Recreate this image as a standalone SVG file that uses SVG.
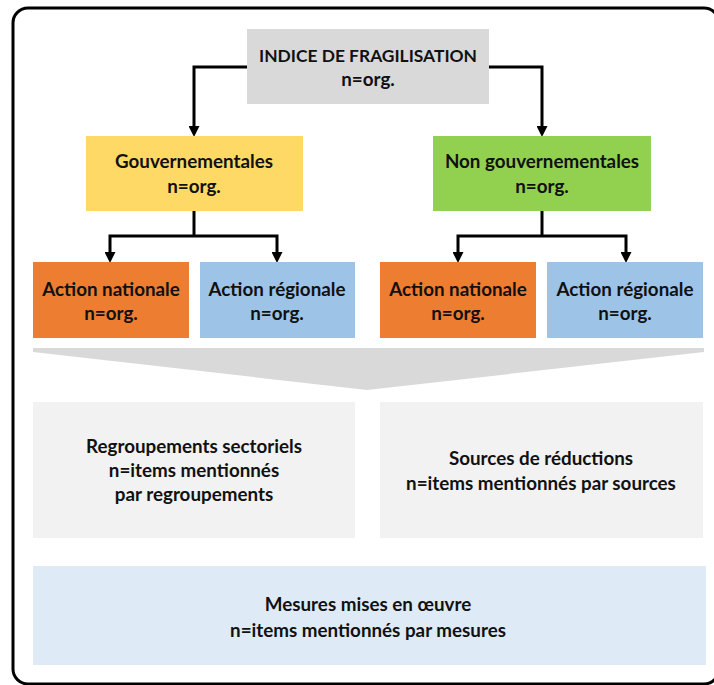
<svg xmlns="http://www.w3.org/2000/svg" width="714" height="685" viewBox="0 0 714 685">
<defs>
<style>
.t{font-family:Lato,"Liberation Sans",Arial,sans-serif;font-weight:bold;font-size:18.8px;fill:#111;text-anchor:middle}
.cap{font-size:17.4px}
.c{fill:none;stroke:#000;stroke-width:3}
</style>
<marker id="ar" viewBox="0 0 10 10" refX="0" refY="5" markerWidth="11" markerHeight="11" markerUnits="userSpaceOnUse" orient="auto">
<path d="M0,0 L10,5 L0,10 z" fill="#000"/>
</marker>
</defs>
<rect width="714" height="685" fill="#fff"/>
<rect x="13" y="8" width="706" height="676" rx="15" fill="#fff" stroke="#000" stroke-width="3"/>

<g id="connectors">
<path class="c" d="M247,67 H194 V126" marker-end="url(#ar)"/>
<path class="c" d="M489,67 H542 V126" marker-end="url(#ar)"/>
<path class="c" d="M194,211 V236"/>
<path class="c" d="M194,236 H110 V252" marker-end="url(#ar)"/>
<path class="c" d="M194,236 H277 V252" marker-end="url(#ar)"/>
<path class="c" d="M542,211 V236"/>
<path class="c" d="M542,236 H458 V252" marker-end="url(#ar)"/>
<path class="c" d="M542,236 H626 V252" marker-end="url(#ar)"/>
</g>

<g id="indice">
<rect x="247" y="29" width="242" height="75" fill="#D9D9D9"/>
<text class="t cap" x="368" y="62">INDICE DE FRAGILISATION</text>
<text class="t" x="368" y="86">n=org.</text>
</g>
<g id="gouv">
<rect x="86" y="136" width="217" height="75" fill="#FFD966"/>
<text class="t" x="194" y="168">Gouvernementales</text>
<text class="t" x="194" y="193">n=org.</text>
</g>
<g id="nongouv">
<rect x="433" y="136" width="218" height="75" fill="#92D050"/>
<text class="t" x="542" y="168">Non gouvernementales</text>
<text class="t" x="542" y="193">n=org.</text>
</g>
<g id="gouv-nat">
<rect x="33" y="262" width="156" height="76" fill="#ED7D31"/>
<text class="t" x="111" y="296">Action nationale</text>
<text class="t" x="111" y="320">n=org.</text>
</g>
<g id="gouv-reg">
<rect x="200" y="262" width="155" height="76" fill="#9DC3E6"/>
<text class="t" x="277" y="296">Action régionale</text>
<text class="t" x="277" y="320">n=org.</text>
</g>
<g id="ng-nat">
<rect x="380" y="262" width="156" height="76" fill="#ED7D31"/>
<text class="t" x="458" y="296">Action nationale</text>
<text class="t" x="458" y="320">n=org.</text>
</g>
<g id="ng-reg">
<rect x="547" y="262" width="156" height="76" fill="#9DC3E6"/>
<text class="t" x="625" y="296">Action régionale</text>
<text class="t" x="625" y="320">n=org.</text>
</g>

<g id="funnel">
<polygon points="33,348 704,348 704,352 367,390 33,352" fill="#D9D9D9"/>
</g>

<g id="regroupements">
<rect x="33" y="402" width="322" height="136" fill="#F2F2F2"/>
<text class="t" x="194" y="453">Regroupements sectoriels</text>
<text class="t" x="194" y="477">n=items mentionnés</text>
<text class="t" x="194" y="501">par regroupements</text>
</g>
<g id="sources">
<rect x="380" y="402" width="323" height="136" fill="#F2F2F2"/>
<text class="t" x="541" y="465">Sources de réductions</text>
<text class="t" x="541" y="490">n=items mentionnés par sources</text>
</g>
<g id="mesures">
<rect x="33" y="566" width="673" height="99" fill="#DEEBF7"/>
<text class="t" x="368" y="611">Mesures mises en œuvre</text>
<text class="t" x="368" y="637">n=items mentionnés par mesures</text>
</g>
</svg>
